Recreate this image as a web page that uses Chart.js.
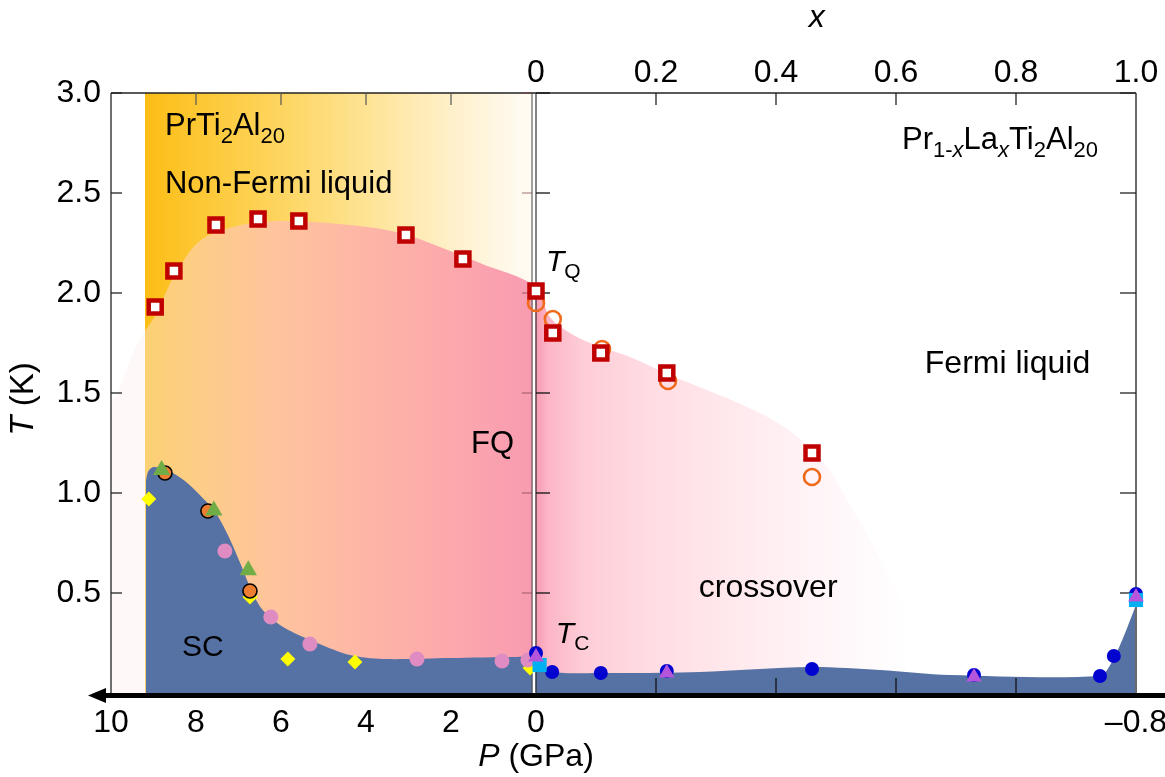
<!DOCTYPE html>
<html>
<head>
<meta charset="utf-8">
<script src="https://cdn.jsdelivr.net/npm/chart.js@4.4.1/dist/chart.umd.min.js"></script>
<style>
html,body{margin:0;padding:0;background:#fff;}
#wrap{width:1165px;height:777px;position:relative;}
</style>
</head>
<body>
<div id="wrap"><canvas id="c" width="1165" height="777"></canvas></div>
<script>
// ================= DATA =================
// Tick labels
const pTickValues = [10, 8, 6, 4, 2, 0];           // pressure P (GPa), reversed axis
const pTickLabels = ['10', '8', '6', '4', '2', '0'];
const chemPressureLabel = '–0.8';                    // x = 1.0 equivalent pressure
const xTickValues = [0, 0.2, 0.4, 0.6, 0.8, 1.0];   // La content x
const xTickLabels = ['0', '0.2', '0.4', '0.6', '0.8', '1.0'];
const tTickValues = [0.5, 1.0, 1.5, 2.0, 2.5, 3.0]; // temperature T (K)

// T_Q : PrTi2Al20 under pressure  [P (GPa), T (K)]
const tqPressure = [[8.96,1.93],[8.52,2.11],[7.53,2.34],[6.54,2.37],[5.58,2.36],[3.06,2.29],[1.72,2.17],[0,2.01]];
// T_Q : Pr1-xLaxTi2Al20  [x, T]  (squares and open circles)
const tqDopingSq = [[0.028,1.80],[0.108,1.70],[0.218,1.60],[0.46,1.20]];
const tqDopingCirc = [[0,1.95],[0.028,1.87],[0.11,1.72],[0.22,1.56],[0.46,1.08]];

// T_C under pressure [P, T]
const tcOrange = [[8.73,1.10],[7.72,0.91],[6.73,0.51]];
const tcGreen  = [[8.81,1.115],[7.58,0.913],[6.77,0.614]];
const tcYellow = [[9.11,0.97],[6.73,0.48],[5.84,0.17],[4.26,0.155],[0.14,0.125]];
const tcPink   = [[7.32,0.71],[6.24,0.38],[5.32,0.245],[2.80,0.17],[0.80,0.16],[0.19,0.165]];
// T_C with La doping [x, T]
const tcBlue   = [[0,0.20],[0.027,0.105],[0.108,0.10],[0.218,0.11],[0.46,0.12],[0.73,0.09],[0.94,0.085],[0.963,0.185],[1.0,0.495]];
const tcCyan   = [[0.006,0.14],[1.0,0.465]];
const tcPurple = [[0,0.18],[0.218,0.10],[0.73,0.08],[1.0,0.48]];

// Phase-region boundaries
const nflSpanP = [9.2, 0.08];   // non-Fermi-liquid band (pressure side), spans full T
const fqBoundaryP = [[10,1.45],[9.84,1.5],[9.67,1.6],[9.44,1.72],[9.2,1.81],[8.92,1.9],[8.65,2.03],[8.45,2.11],[7.91,2.26],[7.13,2.33],[6.09,2.36],[4.38,2.34],[3.2,2.30],[2.26,2.23],[1.32,2.15],[0,2.03]];
const fqBoundaryX = [[0.023,1.88],[0.062,1.79],[0.108,1.73],[0.157,1.68],[0.223,1.59],[0.352,1.43],[0.428,1.30],[0.485,1.13],[0.518,0.97],[0.565,0.72],[0.615,0.42],[0.665,0]];
const scBoundaryP = [[9.18,1.06],[9.12,1.11],[9.0,1.13],[8.68,1.115],[8.26,1.06],[7.91,0.99],[7.55,0.905],[7.25,0.79],[6.96,0.65],[6.73,0.53],[6.45,0.42],[5.95,0.33],[5.15,0.25],[4.38,0.19],[3.6,0.17],[2.02,0.175],[0.45,0.18],[0,0.18]];
const scBoundaryX = [[0.02,0.11],[0.107,0.10],[0.273,0.105],[0.457,0.13],[0.573,0.115],[0.69,0.09],[0.94,0.085],[0.957,0.14],[0.977,0.265],[1.0,0.44]];

// ================= MAPPING =================
const FONT = '"Liberation Sans", Arial, Helvetica, sans-serif';
const XS = 600 / 42.5;            // width of doping panel in pressure-axis units
const uP = p => -p;
const uX = x => x * XS;
const ptsP = arr => arr.map(([p, t]) => ({x: uP(p), y: t}));
const ptsX = arr => arr.map(([x, t]) => ({x: uX(x), y: t}));

// ================= STYLES =================
const orangeStops = [[uP(9.2),'rgb(252,189,22)'],[uP(8),'rgb(253,199,50)'],[uP(6),'rgb(253,213,96)'],[uP(4),'rgb(254,227,148)'],[uP(2),'rgb(255,240,202)'],[uP(0.08),'rgb(255,252,246)']];
const fqStops = [[uP(10),'rgb(255,248,248)'],[uP(9.21),'rgb(255,248,248)'],[uP(9.19),'rgb(252,208,115)'],[uP(8),'rgb(253,205,135)'],[uP(6),'rgb(254,195,158)'],[uP(4),'rgb(254,181,166)'],[uP(2),'rgb(252,168,172)'],[uP(0.08),'rgb(248,155,178)'],
  [uX(0),'rgb(248,155,178)'],[uX(0.02),'rgb(252,182,198)'],[uX(0.08),'rgb(254,205,215)'],[uX(0.2),'rgb(255,221,228)'],[uX(0.33),'rgb(255,233,237)'],[uX(0.45),'rgb(255,243,246)'],[uX(0.55),'rgb(255,250,251)'],[uX(0.62),'rgb(255,255,255)']];

function hGrad(chart, stops) {
  const a = chart.chartArea;
  if (!a || !chart.scales.x) return 'rgba(0,0,0,0)';
  const sx = chart.scales.x, w = a.right - a.left;
  const g = chart.ctx.createLinearGradient(a.left, 0, a.right, 0);
  stops.forEach(([u, c]) => {
    const px = sx.getPixelForValue(u);
    g.addColorStop(Math.min(1, Math.max(0, (px - a.left) / w)), c);
  });
  return g;
}

function regionDs(label, data, bg, order, tension) {
  return {type: 'line', label, data, order, fill: 'origin', tension,
    borderColor: 'rgba(0,0,0,0)', borderWidth: 0, pointRadius: 0, pointHoverRadius: 0,
    backgroundColor: bg};
}
function markerDs(label, data, style, r, fillC, strokeC, bw, order) {
  return {type: 'scatter', label, data, order, clip: false,
    pointStyle: style, pointRadius: r, pointHoverRadius: r,
    pointBackgroundColor: fillC, pointBorderColor: strokeC, pointBorderWidth: bw,
    pointHoverBorderWidth: bw, backgroundColor: fillC, borderColor: strokeC};
}

const datasets = [
  regionDs('nfl', [{x: uP(nflSpanP[0]), y: 3}, {x: uP(nflSpanP[1]), y: 3}], c => hGrad(c.chart, orangeStops), 30, 0),
  regionDs('fq', [...ptsP(fqBoundaryP), ...ptsX(fqBoundaryX)], c => hGrad(c.chart, fqStops), 20, 0.35),
  regionDs('sc', [...ptsP(scBoundaryP), ...ptsX(scBoundaryX)], '#5672A4', 10, 0.3),
  markerDs('Tc yellow', ptsP(tcYellow), 'rectRot', 7.5, '#FFFF00', '#FFFF00', 0, 9),
  markerDs('Tc pink', ptsP(tcPink), 'circle', 7.5, '#DE8CC2', '#DE8CC2', 0, 8),
  markerDs('Tc orange', ptsP(tcOrange), 'circle', 7, '#ED7D31', '#000000', 1.6, 7),
  markerDs('Tc green', ptsP(tcGreen), 'triangle', 10, '#70AD47', '#70AD47', 0, 6),
  markerDs('Tc blue', ptsX(tcBlue), 'circle', 7, '#0303CF', '#0303CF', 0, 5),
  markerDs('Tc cyan', ptsX(tcCyan), 'rect', 10, '#00B0F0', '#00B0F0', 0, 4),
  markerDs('Tc purple', ptsX(tcPurple), 'triangle', 9, '#B455DC', '#B455DC', 0, 3),
  markerDs('TQ circles', ptsX(tqDopingCirc), 'circle', 8, 'rgba(0,0,0,0)', '#F06A1C', 2.6, 2),
  markerDs('TQ P', ptsP(tqPressure), 'rect', 9.2, '#FFFFFF', '#C00000', 4.5, 1),
  markerDs('TQ x', ptsX(tqDopingSq), 'rect', 9.2, '#FFFFFF', '#C00000', 4.5, 1)
];

// ================= TEXT HELPERS =================
function drawRich(ctx, x, y, parts, align) {
  let total = 0;
  const ms = parts.map(p => {
    ctx.font = (p.i ? 'italic ' : '') + p.s + 'px ' + FONT;
    const w = ctx.measureText(p.t).width; total += w; return w;
  });
  let cx = align === 'center' ? x - total / 2 : x;
  parts.forEach((p, k) => {
    ctx.font = (p.i ? 'italic ' : '') + p.s + 'px ' + FONT;
    ctx.fillText(p.t, cx, y + (p.dy || 0));
    cx += ms[k];
  });
}
const big = 31, sub = 22;
const notes = [
  {P: 8.73, T: 2.79, parts: [{t:'PrTi',s:big},{t:'2',s:sub,dy:8},{t:'Al',s:big},{t:'20',s:sub,dy:8}]},
  {P: 8.73, T: 2.50, parts: [{t:'Non-Fermi liquid',s:31}]},
  {P: 1.53, T: 1.20, parts: [{t:'FQ',s:31}]},
  {P: 8.33, T: 0.186, parts: [{t:'SC',s:30}]},
  {x: 0.0167, T: 2.11, parts: [{t:'T',s:30,i:true},{t:'Q',s:21,dy:7}]},
  {x: 0.033, T: 0.25, parts: [{t:'T',s:30,i:true},{t:'C',s:21,dy:7}]},
  {x: 0.387, T: 0.48, align: 'center', parts: [{t:'crossover',s:32}]},
  {x: 0.648, T: 1.60, parts: [{t:'Fermi liquid',s:32}]},
  {x: 0.61, T: 2.72, parts: [{t:'Pr',s:big},{t:'1-',s:sub,dy:8},{t:'x',s:sub,dy:8,i:true},{t:'La',s:big},{t:'x',s:sub,dy:8,i:true},{t:'Ti',s:big},{t:'2',s:sub,dy:8},{t:'Al',s:big},{t:'20',s:sub,dy:8}]}
];

// ================= PLUGIN: frame, ticks, arrow axis, labels =================
function line(ctx, x1, y1, x2, y2, c, w) {
  ctx.beginPath(); ctx.strokeStyle = c; ctx.lineWidth = w;
  ctx.moveTo(x1, y1); ctx.lineTo(x2, y2); ctx.stroke();
}
const decor = {
  id: 'decor',
  afterDatasetDraw(chart, args) {
    if (chart.data.datasets[args.index].label !== 'sc') return;
    const ctx = chart.ctx, a = chart.chartArea, sx = chart.scales.x, sy = chart.scales.y;
    const x0 = sx.getPixelForValue(uX(0));
    ctx.save();
    // divider: double line
    ctx.fillStyle = '#ffffff';
    ctx.fillRect(x0 - 3.5, a.top, 3, a.bottom - a.top);
    line(ctx, x0 - 4, a.top, x0 - 4, a.bottom, '#555', 1.1);
    line(ctx, x0 + 0, a.top, x0 + 0, a.bottom, '#222', 1.1);
    // frame
    line(ctx, a.left, a.top, a.left, a.bottom, '#222', 1.3);
    line(ctx, a.left, a.top, a.right, a.top, '#222', 1.3);
    line(ctx, a.right, a.top, a.right, a.bottom, '#6a6a6a', 2);
    // T ticks
    tTickValues.forEach(t => {
      const y = sy.getPixelForValue(t);
      line(ctx, a.left, y, a.left + 11, y, '#222', 1.3);
      line(ctx, x0 - 14, y, x0 - 4, y, 'rgba(120,60,70,0.6)', 1.2);
      line(ctx, x0, y, x0 + 14, y, '#111', 1.3);
      line(ctx, a.right - 16, y, a.right, y, '#222', 1.3);
    });
    // top ticks (both panels) and bottom ticks (doping panel)
    pTickValues.filter(p => p > 0 && p < 10).forEach(p => {
      const x = sx.getPixelForValue(uP(p));
      line(ctx, x, a.top, x, a.top + 12, '#555', 1.2);
    });
    xTickValues.filter(v => v > 0 && v < 1).forEach(v => {
      const x = sx.getPixelForValue(uX(v));
      line(ctx, x, a.top, x, a.top + 12, '#222', 1.3);
      line(ctx, x, a.bottom, x, a.bottom - 15, '#111', 1.3);
    });
    ctx.restore();
  },
  afterDatasetsDraw(chart) {
    const ctx = chart.ctx, a = chart.chartArea, sx = chart.scales.x, sy = chart.scales.y;
    ctx.save();
    // thick arrow axis
    const yb = a.bottom + 2.5;
    line(ctx, a.left - 8, yb, chart.width, yb, '#000', 5);
    ctx.beginPath(); ctx.fillStyle = '#000';
    ctx.moveTo(a.left - 23, yb); ctx.lineTo(a.left - 5, yb - 7.5); ctx.lineTo(a.left - 5, yb + 7.5);
    ctx.closePath(); ctx.fill();
    // annotations
    ctx.fillStyle = '#000'; ctx.textBaseline = 'alphabetic'; ctx.textAlign = 'left';
    notes.forEach(n => {
      const u = n.P !== undefined ? uP(n.P) : uX(n.x);
      drawRich(ctx, sx.getPixelForValue(u), sy.getPixelForValue(n.T), n.parts, n.align);
    });
    // axis titles
    ctx.textBaseline = 'middle';
    drawRich(ctx, sx.getPixelForValue(uP(0)), 757, [{t:'P',s:32,i:true},{t:' (GPa)',s:32}], 'center');
    drawRich(ctx, sx.getPixelForValue(uX(0.468)), 18, [{t:'x',s:32,i:true}], 'center');
    ctx.translate(24, (a.top + a.bottom) / 2 + 6);
    ctx.rotate(-Math.PI / 2);
    drawRich(ctx, 0, 0, [{t:'T',s:33,i:true},{t:' (K)',s:33}], 'center');
    ctx.restore();
  }
};

// ================= CHART =================
const tickFont = {family: FONT, size: 32};
new Chart(document.getElementById('c'), {
  type: 'scatter',
  data: {datasets},
  plugins: [decor],
  options: {
    responsive: false, animation: false, events: [],
    layout: {padding: {left: 0, right: 29, top: 0, bottom: 0}},
    plugins: {legend: {display: false}, tooltip: {enabled: false}},
    scales: {
      x: {
        type: 'linear', position: 'bottom', min: uP(10), max: uX(1),
        afterBuildTicks: s => { s.ticks = [...pTickValues.map(p => ({value: uP(p)})), {value: uX(1)}]; },
        ticks: {autoSkip: false, maxRotation: 0, font: tickFont, color: '#000', padding: 11,
          callback: (v, i) => i < pTickLabels.length ? pTickLabels[i] : chemPressureLabel},
        grid: {display: false, drawTicks: false}, border: {display: false},
        afterFit: s => { s.height = 84; s.paddingLeft = 0; s.paddingRight = 0; }
      },
      x2: {
        type: 'linear', position: 'top', min: uP(10), max: uX(1),
        afterBuildTicks: s => { s.ticks = xTickValues.map(v => ({value: uX(v)})); },
        ticks: {autoSkip: false, maxRotation: 0, font: tickFont, color: '#000', padding: 1,
          callback: (v, i) => xTickLabels[i]},
        grid: {display: false, drawTicks: false}, border: {display: false},
        afterFit: s => { s.height = 93; s.paddingLeft = 0; s.paddingRight = 0; }
      },
      y: {
        type: 'linear', position: 'left', min: 0, max: 3,
        afterBuildTicks: s => { s.ticks = tTickValues.map(v => ({value: v})); },
        ticks: {font: tickFont, color: '#000', padding: 10, callback: v => v.toFixed(1)},
        grid: {display: false, drawTicks: false}, border: {display: false},
        afterFit: s => { s.width = 111; s.paddingTop = 0; s.paddingBottom = 0; }
      }
    }
  }
});
</script>
</body>
</html>
